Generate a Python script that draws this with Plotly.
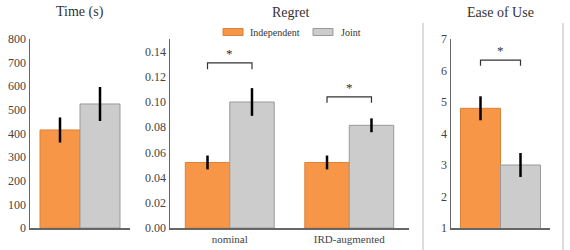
import plotly.graph_objects as go

# ---- data ----
time_cat = ["Time"]
time_ind = [415]
time_ind_err = [53]
time_joint = [525]
time_joint_err = [72]

regret_cat = ["nominal", "IRD-augmented"]
regret_ind = [0.052, 0.052]
regret_ind_err = [0.0055, 0.0055]
regret_joint = [0.100, 0.0815]
regret_joint_err = [0.011, 0.0055]
regret_sig_top = [0.131, 0.104]
regret_sig_tick = [0.126, 0.0995]

ease_cat = ["Ease"]
ease_ind = [4.8]
ease_ind_err = [0.38]
ease_joint = [3.0]
ease_joint_err = [0.38]
ease_sig_top = [6.33]
ease_sig_tick = [6.15]

series_names = ["Independent", "Joint"]

ORANGE = "#F79646"
ORANGE_LINE = "#D9823C"
GREY = "#CCCCCC"
GREY_LINE = "#999999"
AXIS = "#666666"
TEXT = "#333333"
FONT = "Liberation Serif"

W, H = 570, 250
def px(x):
    return x / W
def py(y):
    return (H - y) / H

fig = go.Figure()

panels = [
    ("x", "y", time_cat, time_ind, time_ind_err, time_joint, time_joint_err, 0.40),
    ("x2", "y2", regret_cat, regret_ind, regret_ind_err, regret_joint, regret_joint_err, 0.372),
    ("x3", "y3", ease_cat, ease_ind, ease_ind_err, ease_joint, ease_joint_err, 0.404),
]

for i, (xa, ya, cats, ind, inde, jt, jte, w) in enumerate(panels):
    fig.add_trace(go.Bar(
        x=cats, y=ind, xaxis=xa, yaxis=ya, name=series_names[0],
        width=w, offset=-w,
        marker=dict(color=ORANGE, line=dict(color=ORANGE_LINE, width=1)),
        error_y=dict(type="data", array=inde, color="black", thickness=2.5, width=0),
        showlegend=False, hoverinfo="skip",
    ))
    fig.add_trace(go.Bar(
        x=cats, y=jt, xaxis=xa, yaxis=ya, name=series_names[1],
        width=w, offset=0,
        marker=dict(color=GREY, line=dict(color=GREY_LINE, width=1)),
        error_y=dict(type="data", array=jte, color="black", thickness=2.5, width=0),
        showlegend=False, hoverinfo="skip",
    ))

shapes = []
annots = []

def bracket(xa, ya, idx, w, top, tick):
    x0, x1 = idx - w / 2, idx + w / 2
    shapes.append(dict(type="path", xref=xa, yref=ya,
                       path=f"M {x0} {tick} L {x0} {top} L {x1} {top} L {x1} {tick}",
                       line=dict(color=TEXT, width=1.2)))
    annots.append(dict(xref=xa, yref=ya, x=idx, y=top, text="*", showarrow=False,
                       yanchor="bottom", yshift=0,
                       font=dict(family=FONT, size=13, color=TEXT)))

for k in range(len(regret_cat)):
    bracket("x2", "y2", k, 0.372, regret_sig_top[k], regret_sig_tick[k])
bracket("x3", "y3", 0, 0.404, ease_sig_top[0], ease_sig_tick[0])

# separators
for xs in (423, 563):
    shapes.append(dict(type="line", xref="paper", yref="paper",
                       x0=px(xs), x1=px(xs), y0=0, y1=py(23),
                       line=dict(color="#BBBBBB", width=1)))

# legend (drawn manually to get wide swatches)
for (sx, tx, col, lc, name) in ((223, 248, ORANGE, ORANGE_LINE, series_names[0]),
                                (313, 339, GREY, GREY_LINE, series_names[1])):
    shapes.append(dict(type="rect", xref="paper", yref="paper",
                       x0=px(sx), x1=px(sx + 20), y0=py(35.5), y1=py(28.5),
                       fillcolor=col, line=dict(color=lc, width=1)))
    annots.append(dict(xref="paper", yref="paper", x=px(tx), y=py(32), text=name,
                       showarrow=False, xanchor="left", yanchor="middle",
                       font=dict(family=FONT, size=10, color=TEXT)))

# titles
for tx, t in ((80, "Time (s)"), (290, "Regret"), (500, "Ease of Use")):
    annots.append(dict(xref="paper", yref="paper", x=px(tx), y=py(12), text=t,
                       showarrow=False, xanchor="center", yanchor="middle",
                       font=dict(family=FONT, size=14, color=TEXT)))

ydom = [py(228), py(39)]
axis_common = dict(showline=True, linecolor=AXIS, linewidth=1.5, showgrid=False,
                   zeroline=False, ticks="", automargin=False,
                   tickfont=dict(family=FONT, size=12, color="#444444"))

fig.update_layout(
    width=W, height=H, margin=dict(l=0, r=0, t=0, b=0, pad=0),
    paper_bgcolor="white", plot_bgcolor="white",
    barmode="overlay", showlegend=False, hovermode=False,
    font=dict(family=FONT, color=TEXT),
    xaxis=dict(domain=[px(30), px(130)], anchor="y", showticklabels=False, **axis_common),
    yaxis=dict(domain=ydom, anchor="x", range=[0, 800], dtick=100, **axis_common),
    xaxis2=dict(domain=[px(170), px(409)], anchor="y2", **axis_common),
    yaxis2=dict(domain=ydom, anchor="x2", range=[0, 0.15], tickvals=[0, 0.02, 0.04, 0.06, 0.08, 0.10, 0.12, 0.14],
                tickformat=".2f", **axis_common),
    xaxis3=dict(domain=[px(451), px(550)], anchor="y3", showticklabels=False, **axis_common),
    yaxis3=dict(domain=ydom, anchor="x3", range=[1, 7], dtick=1, **axis_common),
    shapes=shapes, annotations=annots,
)
fig.update_xaxes(tickfont=dict(size=11))

fig.write_html("out.html", config={"displayModeBar": False, "staticPlot": True},
               post_script="document.body.style.margin='0px';")
